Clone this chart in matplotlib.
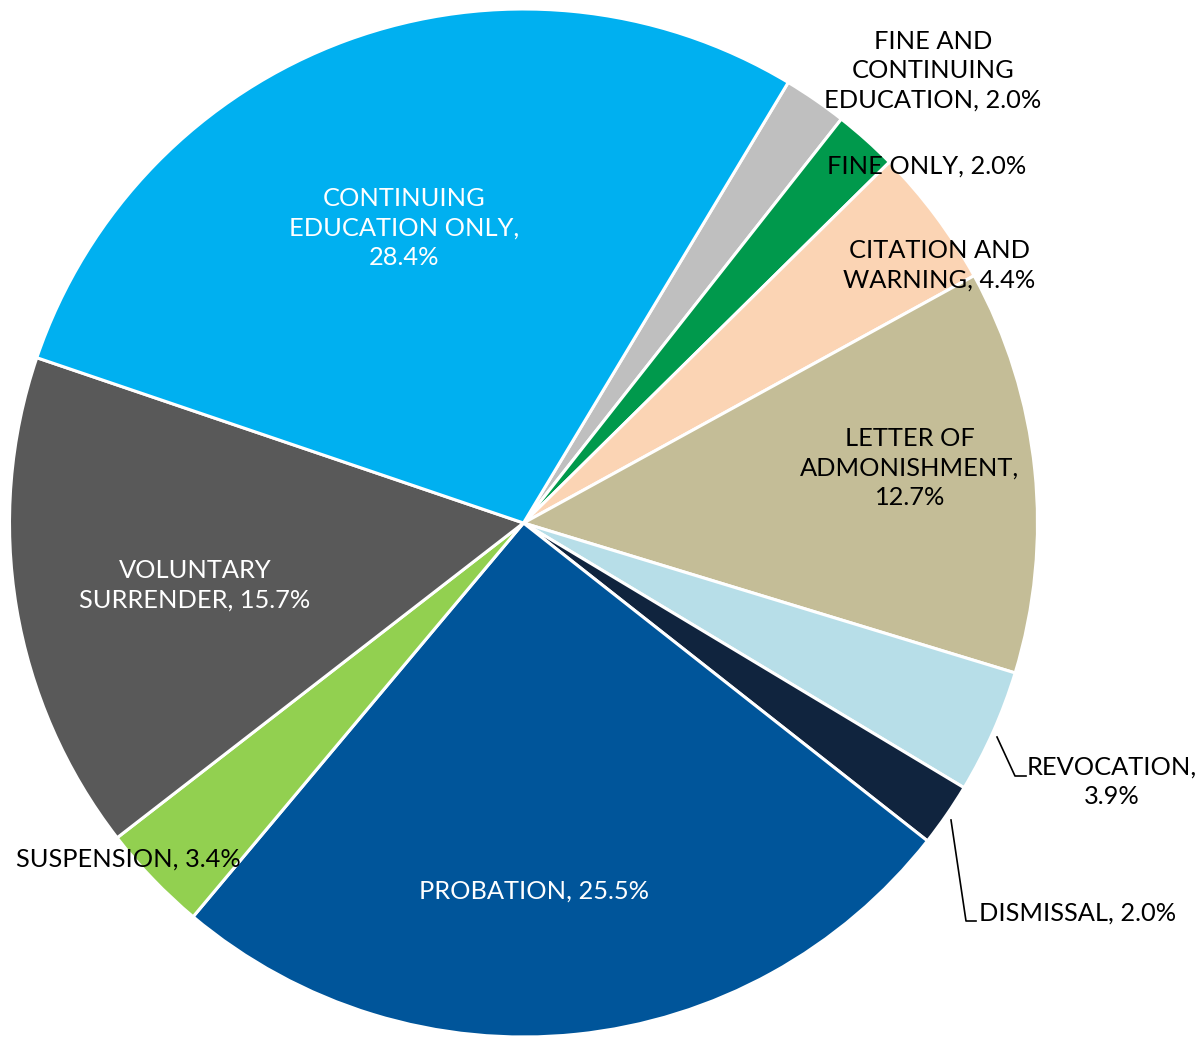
import matplotlib.pyplot as plt

plt.rcParams['font.family'] = ['Lato', 'DejaVu Sans']

# slice data, clockwise from the gray slice at the top right
labels = ['FINE AND\nCONTINUING\nEDUCATION, 2.0%', 'FINE ONLY, 2.0%',
          'CITATION AND\nWARNING, 4.4%', 'LETTER OF\nADMONISHMENT,\n12.7%',
          'REVOCATION,\n3.9%', 'DISMISSAL, 2.0%', 'PROBATION, 25.5%',
          'SUSPENSION, 3.4%', 'VOLUNTARY\nSURRENDER, 15.7%',
          'CONTINUING\nEDUCATION ONLY,\n28.4%']
values = [2.0, 2.0, 4.4, 12.7, 3.9, 2.0, 25.5, 3.4, 15.7, 28.4]
colors = ['#BFBFBF', '#00994C', '#FBD4B4', '#C4BD97', '#B7DEE8',
          '#10243E', '#00559A', '#92D050', '#595959', '#00B0F0']
text_colors = ['black', 'black', 'black', 'black', 'black',
               'black', 'white', 'black', 'white', 'white']

W, H = 1204, 1039
CX, CY, R = 523.5, 523.0, 514.0


def px(x, y):
    # pixel position -> data units of a unit-radius pie
    return (x - CX) / R, (CY - y) / R


fig = plt.figure(figsize=(W / 100, H / 100), dpi=100)
ax = fig.add_axes([0, 0, 1, 1])
ax.pie(values, colors=colors, startangle=59.0, counterclock=False,
       wedgeprops=dict(edgecolor='white', linewidth=2.2))
ax.set_xlim(-CX / R, (W - CX) / R)
ax.set_ylim((CY - H) / R, CY / R)
ax.set_aspect('auto')
ax.axis('off')

# label centres (pixels)
label_pos = [(933, 71), (927, 166), (939, 265), (910, 468), (1112, 782),
             (1078, 913), (534, 891), (128, 859), (195, 585), (404, 228)]
for lab, (x, y), tc in zip(labels, label_pos, text_colors):
    ax.text(*px(x, y), lab, ha='center', va='center', color=tc,
            fontsize=18.3, linespacing=1.33)

# leader lines
for pts in [[(997, 737), (1015, 776), (1026, 776)],
            [(951, 820), (966, 921), (976, 921)]]:
    xs, ys = zip(*[px(a, b) for a, b in pts])
    ax.plot(xs, ys, color='black', lw=1.2)

fig.savefig('out.png', dpi=100)
